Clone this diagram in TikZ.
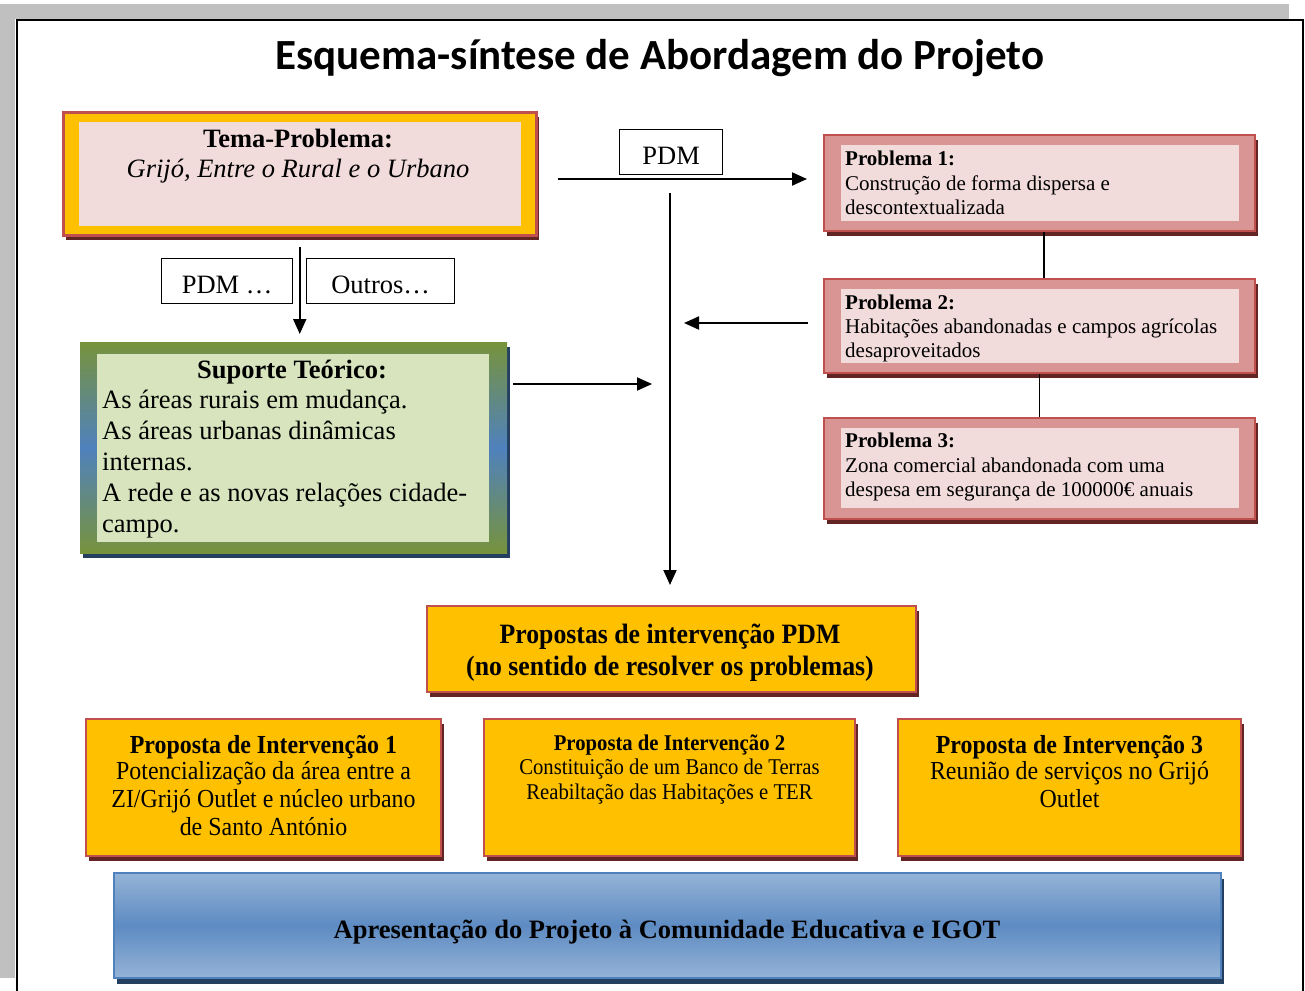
\documentclass[tikz,border=0pt]{standalone}
\usepackage{fontspec}
\setmainfont{Liberation Serif}
\newfontfamily\condfont[FakeStretch=0.92]{Liberation Serif}
\newfontfamily\titlefont{Carlito}
\usetikzlibrary{shadows,arrows.meta}
\definecolor{orng}{HTML}{FFC000}
\definecolor{redb}{HTML}{C0504D}
\definecolor{maroonsh}{HTML}{632523}
\definecolor{pinkin}{HTML}{F2DBDB}
\definecolor{rose}{HTML}{D99594}
\definecolor{olive}{HTML}{77933C}
\definecolor{bluem}{HTML}{4F81BD}
\definecolor{bluel}{HTML}{95B3D7}
\definecolor{navy}{HTML}{243F60}
\definecolor{greenin}{HTML}{D7E4BD}
\definecolor{bggray}{HTML}{C0C0C0}
\tikzset{
  redshadow/.style={drop shadow={shadow xshift=3pt,shadow yshift=-5pt,fill=maroonsh,opacity=1}},
  blueshadow/.style={drop shadow={shadow xshift=3pt,shadow yshift=-5pt,fill=navy,opacity=1}},
  orbox/.style={draw=redb,line width=2pt,fill=orng,redshadow,anchor=north west,inner sep=0},
  probbox/.style={draw=redb,line width=2pt,fill=rose,redshadow,anchor=north west,inner sep=0},
  lblbox/.style={draw=black,line width=1.3pt,fill=white,anchor=north west,inner sep=0},
  txt/.style={inner sep=0,anchor=base},
  txtl/.style={inner sep=0,anchor=base west},
  arr/.style={line width=2pt,-{Triangle[length=15pt,width=13pt]}},
  link/.style={line width=1.6pt},
  big/.style={font=\fontsize{26.5}{30}\selectfont},
  bigb/.style={font=\bfseries\fontsize{26.5}{30}\selectfont},
  bigi/.style={font=\itshape\fontsize{26.5}{30}\selectfont},
  med/.style={font=\fontsize{21}{24}\selectfont},
  medb/.style={font=\bfseries\fontsize{21}{24}\selectfont},
  cond/.style={font=\condfont\fontsize{26}{27}\selectfont},
  condb/.style={font=\condfont\bfseries\fontsize{26}{27}\selectfont},
  condsm/.style={font=\condfont\fontsize{22.5}{24}\selectfont},
  condsmb/.style={font=\condfont\bfseries\fontsize{22.5}{24}\selectfont},
}
\begin{document}
\begin{tikzpicture}[x=1pt,y=-1pt]
\useasboundingbox (0,0) rectangle (1305,990);
% page background and frame
\fill[bggray] (0,4) rectangle (1289,19);
\fill[bggray] (0,4) rectangle (15,978);
\draw[line width=2pt] (17,992) -- (17,20) -- (1303,20) -- (1303,992);

% title
\node[txt,font=\titlefont\bfseries\fontsize{43}{43}\selectfont] (title) at (660,70) {Esquema-síntese de Abordagem do Projeto};

% Tema-Problema
\node[orbox,line width=2.5pt,minimum width=473pt,minimum height=123pt] (tema) at (62,111) {};
\fill[pinkin] ([shift={(17,11)}]tema.north west) rectangle ([shift={(-17,-11)}]tema.south east);
\node[txt,bigb] (temaA) at (298,147) {Tema-Problema:};
\node[txt,bigi] (temaB) at (298,177) {Grijó, Entre o Rural e o Urbano};

% PDM label on top arrow
\node[lblbox,minimum width=103pt,minimum height=45pt] (pdm) at (619,129) {};
\node[txt,big] (pdmT) at (pdm.center |- 0,164) {PDM};

% PDM ... / Outros ... labels
\node[lblbox,minimum width=131pt,minimum height=45pt] (pdmb) at (161,258) {};
\node[txt,big] (pdmbT) at (pdmb.center |- 0,293) {PDM \ldots};
\node[lblbox,minimum width=148pt,minimum height=45pt] (outros) at (306,258) {};
\node[txt,big] (outrosT) at (outros.center |- 0,293) {Outros\ldots};

% Suporte Teorico
\node[anchor=north west,inner sep=0,minimum width=427pt,minimum height=211pt,
      top color=olive,bottom color=olive,middle color=bluem,blueshadow] (sup) at (80,342) {};
\fill[greenin] ([shift={(17,12)}]sup.north west) rectangle ([shift={(-18,-11)}]sup.south east);
\node[txt,bigb] (supH) at (292,378) {Suporte Teórico:};
\node[txtl,big] (supA) at (102,408) {As áreas rurais em mudança.};
\node[txtl,big] (supB) at (102,439) {As áreas urbanas dinâmicas};
\node[txtl,big] (supC) at (102,470) {internas.};
\node[txtl,big] (supD) at (102,501) {A rede e as novas relações cidade-};
\node[txtl,big] (supE) at (102,532) {campo.};

% Problems
\node[probbox,minimum width=431pt,minimum height=96pt] (p1) at (823,134) {};
\fill[pinkin] ([shift={(18,11)}]p1.north west) rectangle ([shift={(-17,-11)}]p1.south east);
\node[txtl,medb] (p1a) at (845,165) {Problema 1:};
\node[txtl,med] (p1b) at (845,190) {Construção de forma dispersa e};
\node[txtl,med] (p1c) at (845,214) {descontextualizada};

\node[probbox,minimum width=431pt,minimum height=94pt] (p2) at (823,278) {};
\fill[pinkin] ([shift={(18,11)}]p2.north west) rectangle ([shift={(-17,-11)}]p2.south east);
\node[txtl,medb] (p2a) at (845,309) {Problema 2:};
\node[txtl,med] (p2b) at (845,333) {Habitações abandonadas e campos agrícolas};
\node[txtl,med] (p2c) at (845,357) {desaproveitados};

\node[probbox,minimum width=431pt,minimum height=101pt] (p3) at (823,417) {};
\fill[pinkin] ([shift={(18,11)}]p3.north west) rectangle ([shift={(-17,-12)}]p3.south east);
\node[txtl,medb] (p3a) at (845,447) {Problema 3:};
\node[txtl,med] (p3b) at (845,472) {Zona comercial abandonada com uma};
\node[txtl,med] (p3c) at (845,496) {despesa em segurança de 100000€ anuais};

% Propostas PDM
\node[orbox,minimum width=489pt,minimum height=86pt] (prop) at (426,605) {};
\node[txt,font=\condfont\bfseries\fontsize{28}{32}\selectfont] (propA) at (670,643) {Propostas de intervenção PDM};
\node[txt,font=\condfont\bfseries\fontsize{28}{32}\selectfont] (propB) at (670,675) {(no sentido de resolver os problemas)};

% Proposals
\node[orbox,minimum width=355pt,minimum height=137pt] (i1) at (85,718) {};
\node[txt,condb] (i1a) at (i1.center |- 0,753) {Proposta de Intervenção 1};
\node[txt,cond] (i1b) at (i1.center |- 0,779) {Potencialização da área entre a};
\node[txt,cond] (i1c) at (i1.center |- 0,807) {ZI/Grijó Outlet e núcleo urbano};
\node[txt,cond] (i1d) at (i1.center |- 0,835) {de Santo António};

\node[orbox,minimum width=371pt,minimum height=137pt] (i2) at (483,718) {};
\node[txt,condsmb] (i2a) at (i2.center |- 0,750) {Proposta de Intervenção 2};
\node[txt,condsm] (i2b) at (i2.center |- 0,774) {Constituição de um Banco de Terras};
\node[txt,condsm] (i2c) at (i2.center |- 0,799) {Reabiltação das Habitações e TER};

\node[orbox,minimum width=343pt,minimum height=137pt] (i3) at (897,718) {};
\node[txt,condb] (i3a) at (i3.center |- 0,753) {Proposta de Intervenção 3};
\node[txt,cond] (i3b) at (i3.center |- 0,779) {Reunião de serviços no Grijó};
\node[txt,cond] (i3c) at (i3.center |- 0,807) {Outlet};

% Bottom bar
\node[anchor=north west,inner sep=0,minimum width=1107pt,minimum height=105pt,
      draw=bluem,line width=2pt,top color=bluel,bottom color=bluel,middle color=bluem!92!white,
      drop shadow={shadow xshift=3pt,shadow yshift=-6pt,fill=navy,opacity=1}] (apres) at (113,872) {};
\node[txt,bigb] (apresT) at (667,938) {Apresentação do Projeto à Comunidade Educativa e IGOT};

% connectors
\coordinate (hub) at (670,193);
\coordinate (p1in) at (807,179);
\coordinate (p2end) at (684,323);
\coordinate (supEnd) at (652,384);
\draw[arr,shorten <=20pt] (tema.east |- p1in) -- (p1in);
\draw[arr,shorten >=20pt] (hub) -- (hub |- prop.north);
\draw[arr,shorten <=15pt] (p2.west |- p2end) -- (p2end);
\draw[arr,shorten <=6pt] (sup.east |- supEnd) -- (supEnd);
\draw[arr,shorten <=10pt,shorten >=8pt] (tema.south) -- (tema.south |- sup.north);
\draw[link] ([xshift=4.5pt]p1.south) -- ([xshift=4.5pt]p1.south |- p2.north);
\draw[link] (p2.south) -- (p2.south |- p3.north);
\end{tikzpicture}
\end{document}
